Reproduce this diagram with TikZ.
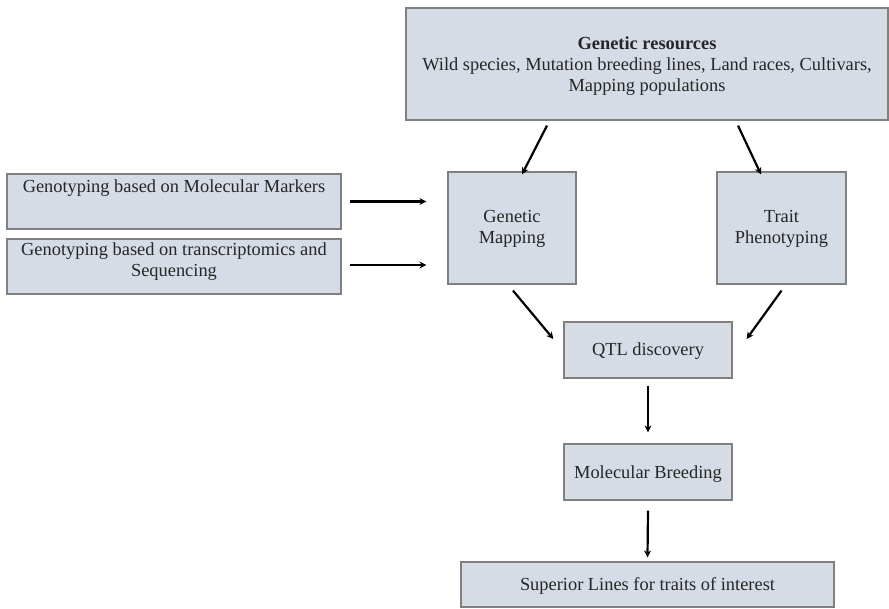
\documentclass[tikz,border=0pt]{standalone}
\usepackage{fontspec}
\setmainfont{Liberation Serif}
\usetikzlibrary{arrows.meta,calc}
\begin{document}
\begin{tikzpicture}[x=1pt,y=-1pt,
  box/.style={draw=black!50, line width=1.2pt, fill=boxfill, rectangle, inner sep=0pt},
  txt/.style={align=center, font=\fontsize{18.4}{21}\selectfont, text=black!85, inner sep=0pt},
  flow/.style={line width=2.2pt, -{Stealth[length=7pt,width=7pt]}}]
\definecolor{boxfill}{HTML}{D6DCE5}
\useasboundingbox (0,0) rectangle (889,608);

% boxes
\node[box, minimum width=482, minimum height=112] (gr) at (647,64) {};
\node[txt] (grt) at (647,66.5) {\textbf{Genetic resources}\\Wild species, Mutation breeding lines, Land races, Cultivars,\\Mapping populations};

\node[box, minimum width=334, minimum height=55] (mm) at (174,201.5) {};
\node[txt] (mmt) at (174,188) {Genotyping based on Molecular Markers};

\node[box, minimum width=334, minimum height=55] (ts) at (174,266.5) {};
\node[txt] (tst) at (174,261.5) {Genotyping based on transcriptomics and\\Sequencing};

\node[box, minimum width=128, minimum height=112] (gm) at (512,228) {};
\node[txt] (gmt) at (512,228.5) {Genetic\\Mapping};

\node[box, minimum width=129, minimum height=112] (tp) at (781.5,228) {};
\node[txt] (tpt) at (781.5,228.5) {Trait\\Phenotyping};

\node[box, minimum width=168, minimum height=56] (qtl) at (648,350) {};
\node[txt] (qtlt) at (648,351) {QTL discovery};

\node[box, minimum width=168, minimum height=56] (mb) at (648,472) {};
\node[txt] (mbt) at (648,474) {Molecular Breeding};

\node[box, minimum width=373, minimum height=45] (sl) at (647.5,584.5) {};
\node[txt] (slt) at (647.5,586) {Superior Lines for traits of interest};

% connectors
\draw[flow] ($(gr.south)+(-100,5)$) -- ($(gm.north)+(10,3)$);
\draw[flow] ($(gr.south)+(91,5)$) -- ($(tp.north)+(-20.5,3)$);
\draw[flow] ($(mm.east)+(8,0)$) -- ($(mm.east -| gm.west)+(-21,0)$);
\draw[flow] ($(ts.east)+(8,-1.5)$) -- ($(ts.east -| gm.west)+(-21,-1.5)$);
\draw[flow] ($(gm.south)+(1,6)$) -- ($(qtl.west)+(-10,-11)$);
\draw[flow] ($(tp.south)+(0,6)$) -- ($(qtl.east)+(14,-11)$);
\draw[flow] ($(qtl.south)+(0,7)$) -- ($(mb.north)+(0,-11)$);
\draw[flow] ($(mb.south)+(0,10)$) -- ($(sl.north)+(0,-4)$);
\end{tikzpicture}
\end{document}
